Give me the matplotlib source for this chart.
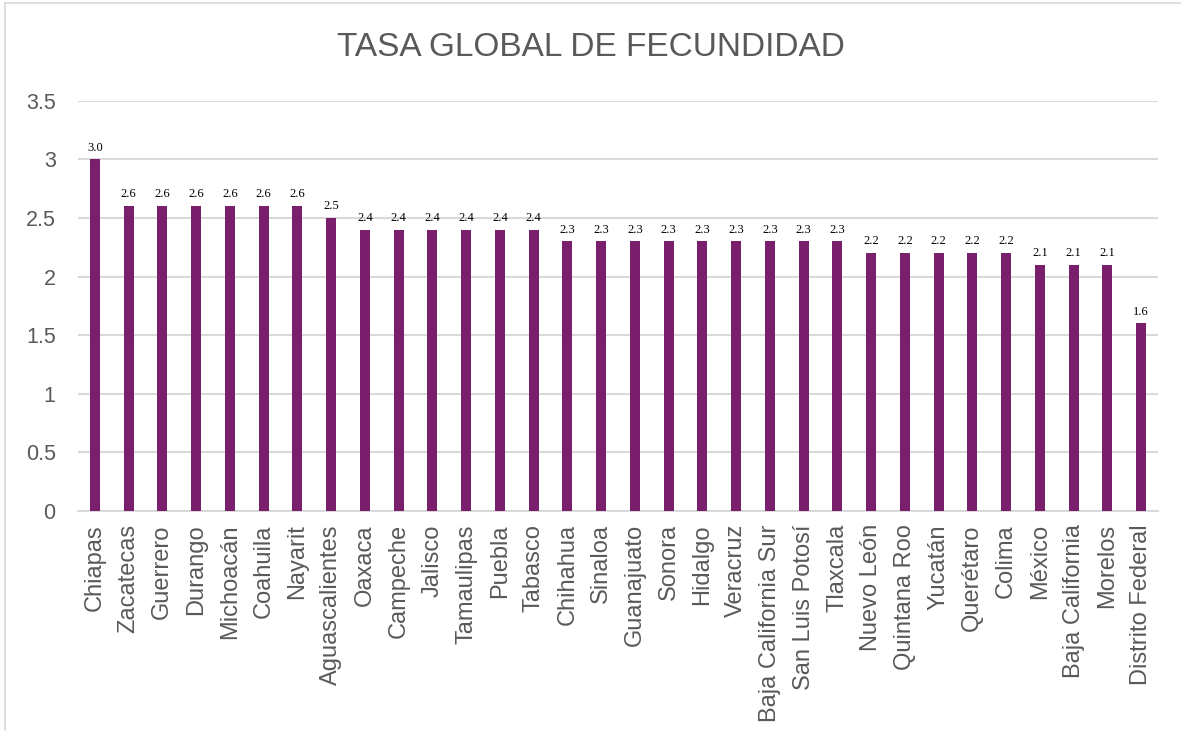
import matplotlib
matplotlib.use("Agg")
import matplotlib.pyplot as plt
from matplotlib.lines import Line2D

states = ["Chiapas", "Zacatecas", "Guerrero", "Durango", "Michoacán", "Coahuila",
          "Nayarit", "Aguascalientes", "Oaxaca", "Campeche", "Jalisco", "Tamaulipas",
          "Puebla", "Tabasco", "Chihahua", "Sinaloa", "Guanajuato", "Sonora",
          "Hidalgo", "Veracruz", "Baja California Sur", "San Luis Potosí", "Tlaxcala",
          "Nuevo León", "Quintana Roo", "Yucatán", "Querétaro", "Colima", "México",
          "Baja California", "Morelos", "Distrito Federal"]
tgf = [3.0, 2.6, 2.6, 2.6, 2.6, 2.6, 2.6, 2.5, 2.4, 2.4, 2.4, 2.4, 2.4, 2.4,
       2.3, 2.3, 2.3, 2.3, 2.3, 2.3, 2.3, 2.3, 2.3, 2.2, 2.2, 2.2, 2.2, 2.2,
       2.1, 2.1, 2.1, 1.6]
yticks = [0, 0.5, 1, 1.5, 2, 2.5, 3, 3.5]
ytick_labels = ["0", "0.5", "1", "1.5", "2", "2.5", "3", "3.5"]

plt.rcParams["font.family"] = ["Liberation Sans", "DejaVu Sans"]
grey = "#595959"
purple = "#7a1f6b"

fig = plt.figure(figsize=(11.81, 7.31), dpi=100)
ax = fig.add_axes([0.066, 0.301, 0.9145, 0.561])

x = range(len(states))
ax.bar(x, tgf, width=0.3, color=purple, zorder=3)
for xi, v in zip(x, tgf):
    ax.text(xi, v + 0.05, f"{v:.1f}", ha="center", va="bottom",
            fontsize=9, family="Liberation Serif", color="black", zorder=4)

ax.set_xlim(-0.5, len(states) - 0.5)
ax.set_ylim(0, 3.5)
ax.set_yticks(yticks)
ax.set_yticklabels(ytick_labels, fontsize=15.5, color=grey)
ax.set_xticks(list(x))
ax.set_xticklabels(states, rotation=90, fontsize=17, color=grey)
ax.tick_params(axis="x", length=0, pad=9.5)
ax.tick_params(axis="y", length=0, pad=16)
ax.grid(axis="y", color="#d9d9d9", lw=1.5, zorder=0)
for s in ["top", "right", "left"]:
    ax.spines[s].set_visible(False)
ax.spines["bottom"].set_color("#d9d9d9")
ax.spines["bottom"].set_linewidth(1.5)

fig.text(0.5, 0.935, "TASA GLOBAL DE FECUNDIDAD", ha="center", va="center",
         fontsize=24, color=grey)

# chart frame (top and left edges visible)
fig.add_artist(Line2D([5 / 1181, 5 / 1181], [0, 1 - 3 / 731], color="#d9d9d9", lw=1.2,
                      transform=fig.transFigure))
fig.add_artist(Line2D([5 / 1181, 1], [1 - 3 / 731, 1 - 3 / 731], color="#d9d9d9", lw=1.2,
                      transform=fig.transFigure))

fig.savefig("out.png", dpi=100)
